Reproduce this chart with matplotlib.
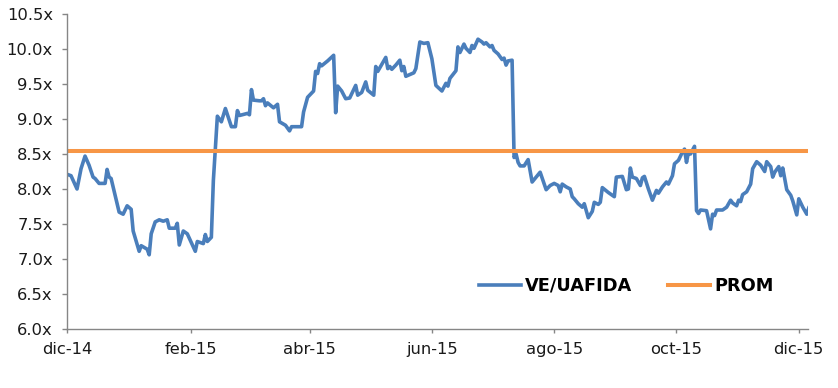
import matplotlib
matplotlib.use("Agg")
import matplotlib.pyplot as plt
import pandas as pd

# Days since 2014-12-01 and VE/UAFIDA multiple
days = [0, 2, 5, 7, 9, 11, 13, 14, 16, 19, 20, 21, 22, 24, 26, 28, 30, 32, 33, 36,
        37, 40, 41, 42, 44, 46, 48, 50, 51, 54, 55, 56, 58, 60, 64, 65, 68, 69, 70, 72,
        73, 75, 77, 79, 82, 84, 85, 86, 90, 91, 92, 93, 96, 97, 98, 99, 100, 103, 105, 106,
        109, 111, 112, 117, 118, 120, 123, 124, 125, 126, 127, 130, 133, 134, 135, 137, 139, 141, 144, 145,
        147, 149, 150, 153, 154, 155, 157, 159, 160, 161, 162, 164, 166, 167, 168, 169, 173, 174, 176, 178,
        180, 182, 184, 187, 189, 190, 191, 194, 195, 196, 198, 199, 201, 202, 203, 205, 207, 208, 209, 211,
        212, 213, 215, 217, 218, 219, 220, 222, 223, 224, 225, 226, 228, 230, 232, 234, 236, 239, 241, 243,
        245, 246, 247, 249, 251, 252, 253, 255, 257, 258, 259, 260, 262, 263, 265, 266, 267, 270, 273, 274,
        277, 279, 280, 281, 282, 284, 286, 287, 288, 290, 292, 294, 295, 297, 299, 300, 302, 303, 305, 307,
        308, 309, 310, 311, 313, 314, 315, 316, 319, 321, 322, 323, 324, 327, 329, 331, 332, 334, 335, 336,
        337, 339, 341, 342, 344, 346, 348, 349, 351, 352, 353, 355, 356, 357, 359, 361, 362, 364, 365, 367,
        369, 370]
ve_uafida = [8.21, 8.19, 8.00, 8.29, 8.47, 8.34, 8.17, 8.15, 8.08, 8.08, 8.28, 8.17, 8.15, 7.91, 7.67, 7.64, 7.76, 7.71, 7.40, 7.11,
             7.19, 7.14, 7.06, 7.36, 7.53, 7.56, 7.54, 7.56, 7.44, 7.44, 7.51, 7.20, 7.40, 7.36, 7.11, 7.25, 7.22, 7.35, 7.25, 7.31,
             8.12, 9.04, 8.96, 9.15, 8.89, 8.89, 9.12, 9.05, 9.08, 9.06, 9.42, 9.27, 9.26, 9.26, 9.29, 9.19, 9.23, 9.16, 9.21, 8.96,
             8.91, 8.83, 8.89, 8.89, 9.10, 9.31, 9.40, 9.68, 9.65, 9.79, 9.76, 9.83, 9.91, 9.09, 9.47, 9.40, 9.29, 9.30, 9.48, 9.34,
             9.38, 9.53, 9.41, 9.34, 9.75, 9.68, 9.78, 9.88, 9.72, 9.75, 9.71, 9.77, 9.84, 9.69, 9.75, 9.61, 9.66, 9.72, 10.10, 10.08,
             10.09, 9.86, 9.48, 9.40, 9.51, 9.47, 9.58, 9.69, 10.03, 9.95, 10.07, 10.01, 9.95, 10.05, 10.01, 10.14, 10.10, 10.07, 10.09, 10.03,
             10.05, 9.98, 9.93, 9.85, 9.87, 9.77, 9.83, 9.84, 8.45, 8.50, 8.38, 8.33, 8.33, 8.42, 8.10, 8.17, 8.24, 7.99, 8.05, 8.08,
             8.05, 7.96, 8.07, 8.03, 8.00, 7.89, 7.86, 7.79, 7.74, 7.79, 7.69, 7.59, 7.68, 7.81, 7.78, 7.81, 8.02, 7.95, 7.89, 8.17,
             8.18, 7.99, 8.00, 8.30, 8.17, 8.15, 8.05, 8.16, 8.18, 8.00, 7.84, 7.98, 7.94, 8.03, 8.10, 8.07, 8.19, 8.36, 8.41, 8.53,
             8.57, 8.38, 8.53, 8.50, 8.61, 7.69, 7.65, 7.70, 7.69, 7.43, 7.64, 7.62, 7.70, 7.70, 7.74, 7.84, 7.80, 7.76, 7.84, 7.82,
             7.92, 7.96, 8.07, 8.29, 8.39, 8.34, 8.25, 8.39, 8.32, 8.17, 8.24, 8.32, 8.19, 8.30, 7.99, 7.91, 7.83, 7.63, 7.86, 7.74,
             7.64, 7.73]
prom = 8.55

tick_dates = ["2014-12-01", "2015-02-01", "2015-04-01", "2015-06-01", "2015-08-01", "2015-10-01", "2015-12-01"]
tick_labels = ["dic-14", "feb-15", "abr-15", "jun-15", "ago-15", "oct-15", "dic-15"]
y_ticks = [6.0, 6.5, 7.0, 7.5, 8.0, 8.5, 9.0, 9.5, 10.0, 10.5]

start = pd.Timestamp("2014-12-01")
dates = [start + pd.Timedelta(days=d) for d in days]

plt.rcParams['font.family'] = ['DejaVu Sans']

fig = plt.figure(figsize=(8.38, 3.88), dpi=100)
ax = fig.add_axes([67/838, 1-329/388, (808-67)/838, (329-14)/388])

ax.plot(dates, ve_uafida, color="#4A7EBB", lw=2.6, label="VE/UAFIDA", solid_joinstyle="round")
ax.axhline(prom, color="#F79646", lw=2.9, label="PROM")

ax.set_ylim(6.0, 10.5)
ax.set_xlim(start, start + pd.Timedelta(days=369.6))
ax.set_yticks(y_ticks)
ax.set_yticklabels([f"{v:.1f}x" for v in y_ticks])
ax.set_xticks([pd.Timestamp(d) for d in tick_dates])
ax.set_xticklabels(tick_labels)

for s in ["top", "right"]:
    ax.spines[s].set_visible(False)
for s in ["left", "bottom"]:
    ax.spines[s].set_color("#868686")
    ax.spines[s].set_linewidth(1.0)
ax.tick_params(axis="both", colors="#868686", width=1.0, labelsize=11.8, labelcolor="#1a1a1a")
ax.tick_params(axis="x", length=3.2, pad=6)
ax.tick_params(axis="y", length=3.6, pad=6.5)

leg = ax.legend(loc="center", bbox_to_anchor=(0.755, 0.137), ncol=2, frameon=False,
                prop={"weight": "bold", "size": 12.8}, handlelength=2.35, handletextpad=0.25,
                columnspacing=2.0)

fig.savefig("out.png", dpi=100)
